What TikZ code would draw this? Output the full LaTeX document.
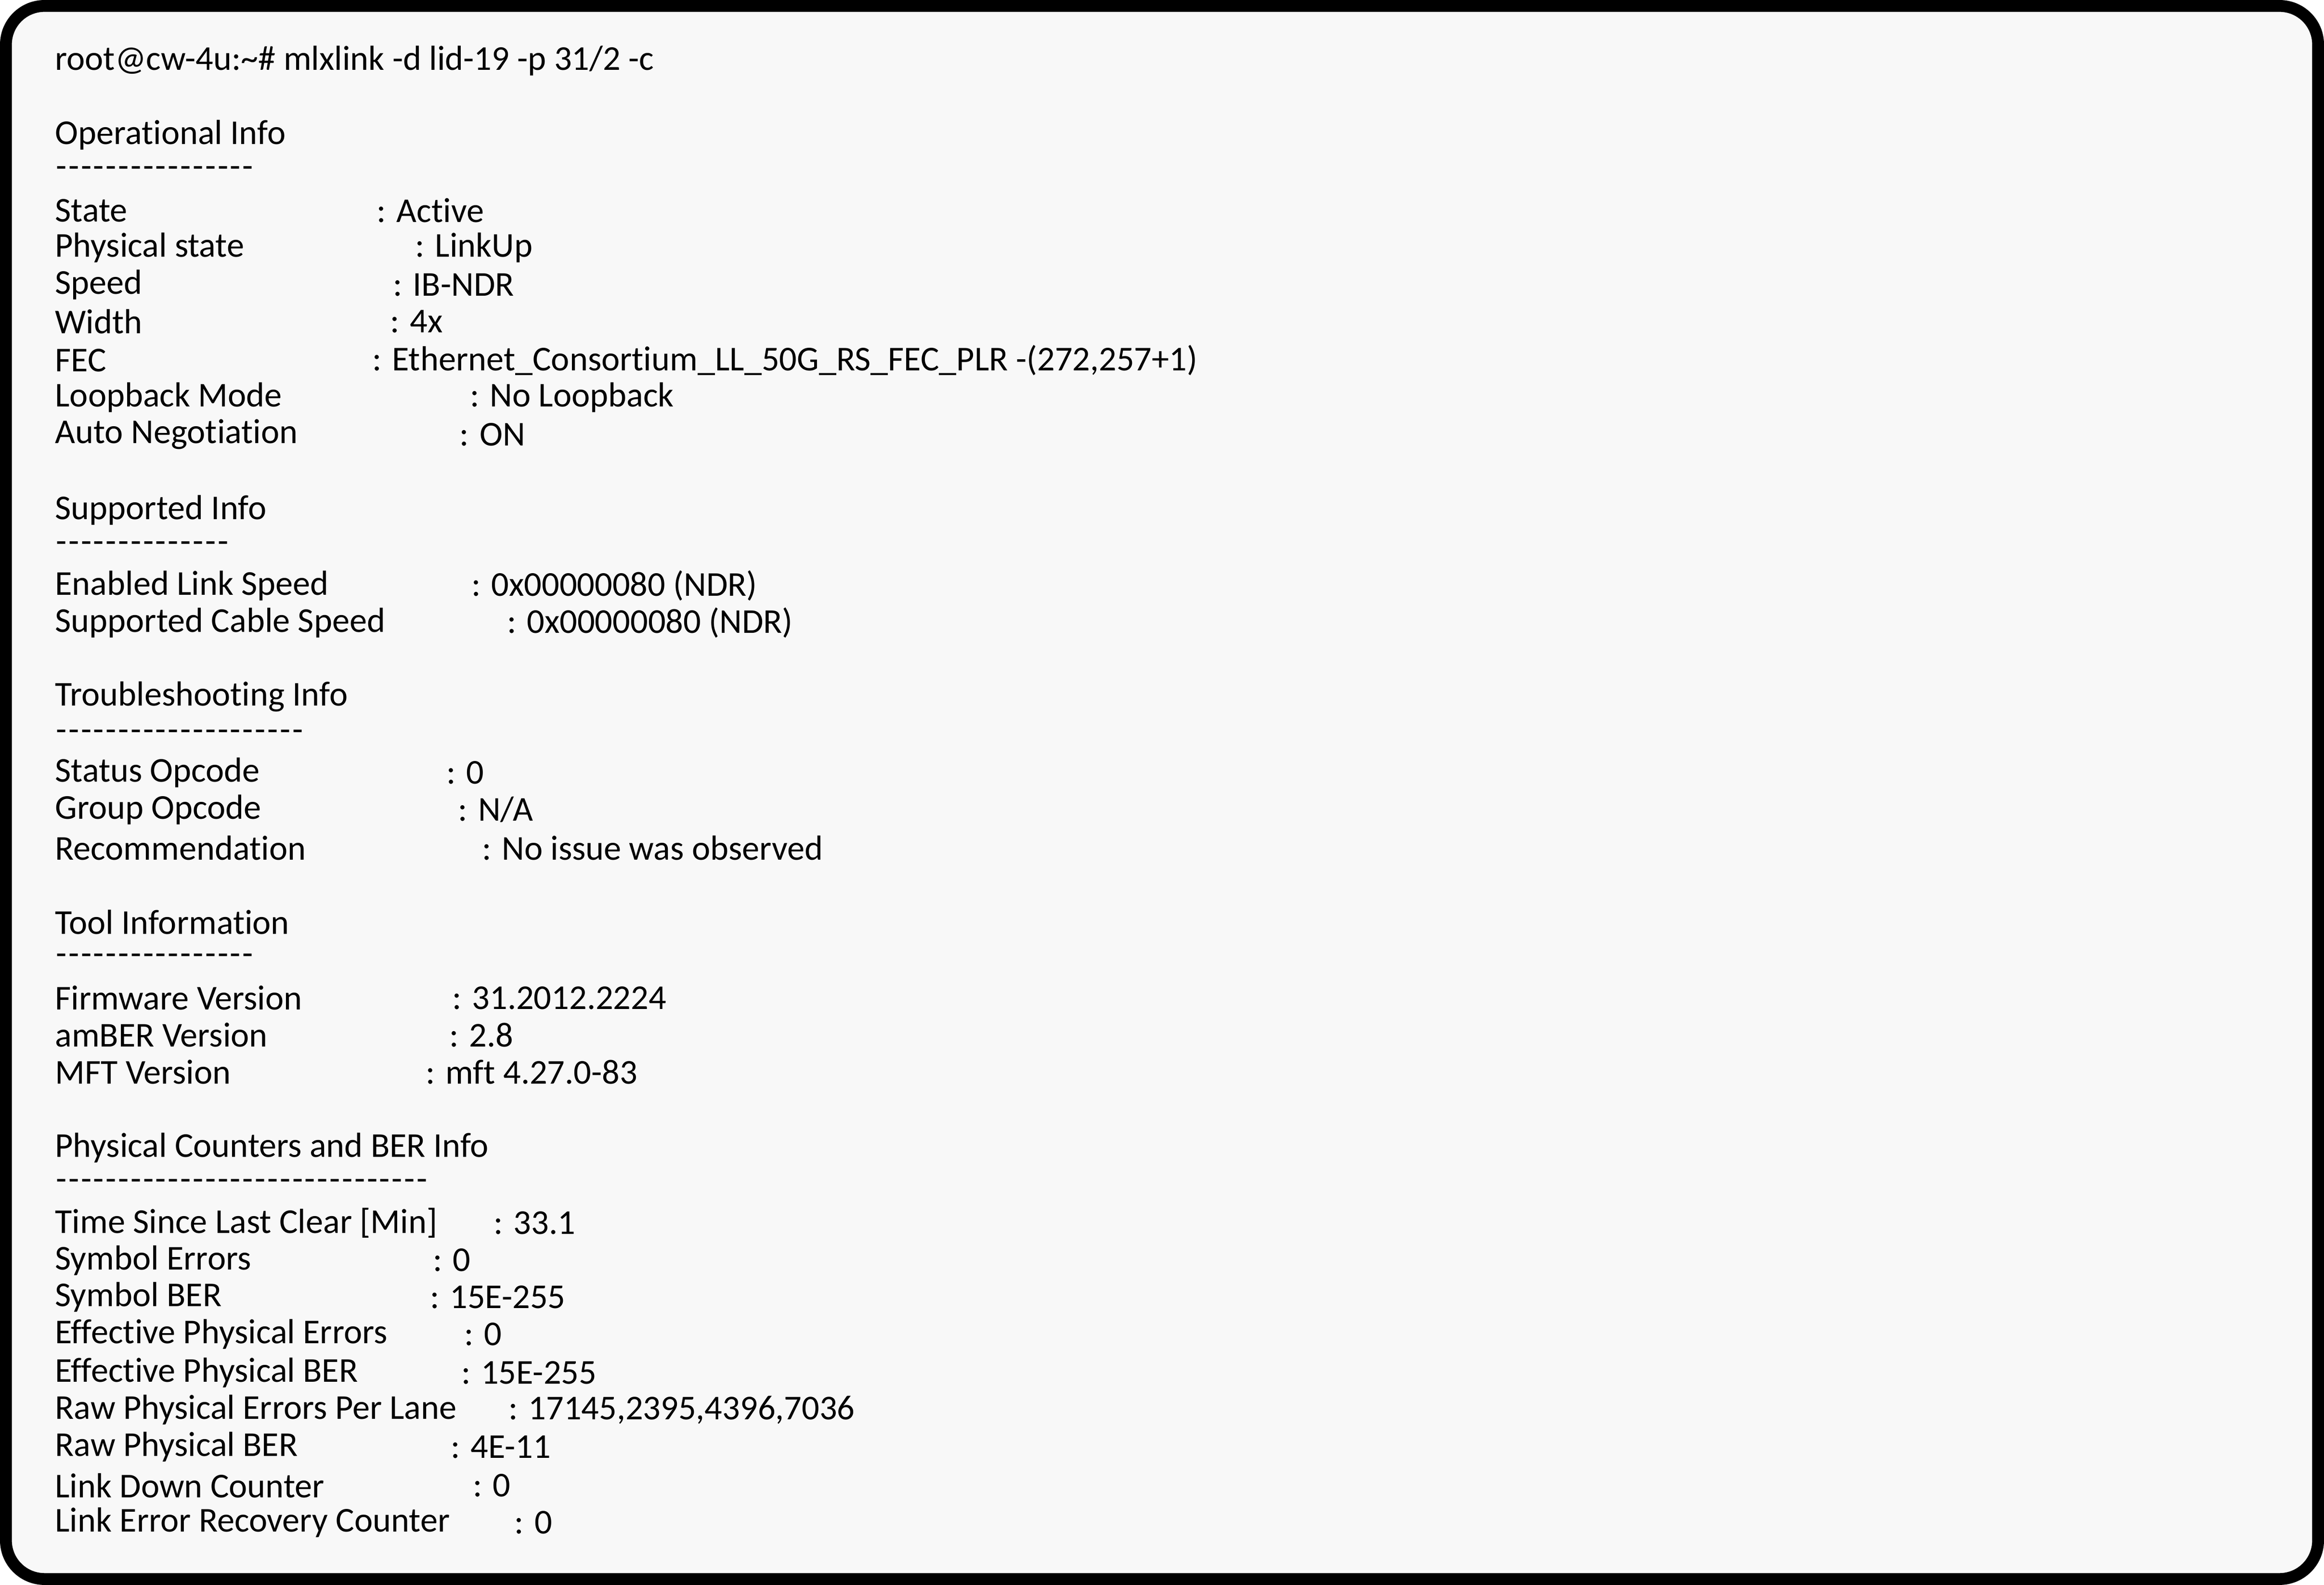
\documentclass[tikz,border=0pt]{standalone}
\usepackage{fontspec}
\setmainfont[Ligatures=NoCommon]{Carlito}
\definecolor{panel}{HTML}{F8F8F8}
\begin{document}
\begin{tikzpicture}[x=1pt,y=-1pt,
  txt/.style={anchor=west,inner sep=0pt,font=\fontsize{23.5}{28}\selectfont,text=black}]
\useasboundingbox (0,0) rectangle (1568,1069);
\fill[white] (0,0) rectangle (1568,1069);
\draw[line width=8pt,fill=panel,rounded corners=26pt] (4,4) rectangle (1564,1065);
\node[txt] (cmd) at (37,41) {root@cw-4u:\textasciitilde\# mlxlink -d lid-19 -p 31/2 -c};
\foreach \n/\y/\t in {h1/91/Operational Info,h2/344/Supported Info,h3/470/Troubleshooting Info,h4/622/Tool Information,h5/774/Physical Counters and BER Info}
  \node[txt] (\n) at (37,\y) {\t};
\foreach \n/\y/\k in {d1/116/16,d2/369/14,d3/496/20,d4/647/16,d5/799/30}
  \node[txt] (\n) at (37,\y) {\foreach \j in {1,...,\k}{\kern0.6pt-\kern0.6pt}};
\foreach \n/\y/\x/\a/\b in {
 a1/142/254/State/Active,
 a2/167/280/Physical state/LinkUp,
 a3/192/265/Speed/IB-NDR,
 a4/217/263/Width/4x,
 a5/243/251/FEC/Ethernet\_Consortium\_LL\_50G\_RS\_FEC\_PLR -(272{,}257+1),
 a6/268/317/Loopback Mode/No Loopback,
 a7/293/310/Auto Negotiation/ON,
 b1/395/318/Enabled Link Speed/0x00000080 (NDR),
 b2/420/342/Supported Cable Speed/0x00000080 (NDR),
 c1/521/301/Status Opcode/0,
 c2/546/309/Group Opcode/{N/A},
 c3/572/325/Recommendation/No issue was observed,
 e1/673/305/Firmware Version/31.2012.2224,
 e2/698/303/amBER Version/2.8,
 e3/723/287/MFT Version/mft 4.27.0-83,
 f1/825/333/Time Since Last Clear [Min]/33.1,
 f2/850/292/Symbol Errors/0,
 f3/875/290/Symbol BER/15E-255,
 f4/900/313/Effective Physical Errors/0,
 f5/926/311/Effective Physical BER/15E-255,
 f6/951/343/Raw Physical Errors Per Lane/17145{,}2395{,}4396{,}7036,
 f7/976/304/Raw Physical BER/4E-11,
 f8/1002/319/Link Down Counter/0,
 f9/1027/347/Link Error Recovery Counter/0}
{
  \node[txt] (\n l) at (37,\y) {\a};
  \node[txt] (\n v) at (\x,\y) {: \b};
}
\end{tikzpicture}
\end{document}
